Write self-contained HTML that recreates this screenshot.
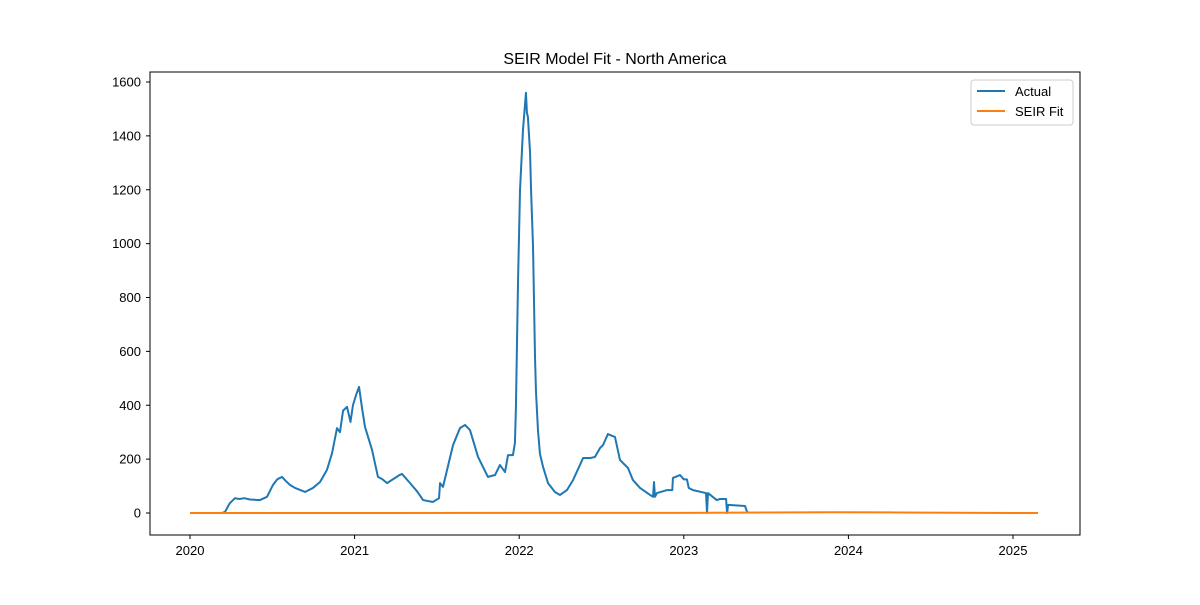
<!DOCTYPE html>
<html><head><meta charset="utf-8"><style>body{margin:0;background:#fff}svg text{font-family:"Liberation Sans","DejaVu Sans",sans-serif}</style></head>
<body>
<svg id="chart" width="1200" height="600" xmlns="http://www.w3.org/2000/svg">
<rect width="1200" height="600" fill="#fff"/>
<text x="615" y="64" font-size="16" text-anchor="middle">SEIR Model Fit - North America</text>
<g id="plot"></g>
<rect x="150" y="72" width="930" height="463" fill="none" stroke="#000" stroke-width="1"/>
<g>
<rect x="971" y="80" width="102" height="45" fill="#fff" stroke="#ccc" rx="3"/>
<line x1="977" y1="91" x2="1005" y2="91" stroke="#1f77b4" stroke-width="2"/>
<text x="1015" y="96" font-size="13">Actual</text>
<line x1="977" y1="111" x2="1005" y2="111" stroke="#ff7f0e" stroke-width="2"/>
<text x="1015" y="116" font-size="13">SEIR Fit</text>
</g>
</svg>
<script>
const actualDates=[
2020.000,2020.194,2020.213,2020.240,2020.273,2020.300,2020.330,2020.365,2020.425,2020.468,
2020.504,2020.530,2020.559,2020.580,2020.608,2020.638,2020.699,2020.747,2020.790,2020.832,
2020.863,2020.893,2020.911,2020.930,2020.954,2020.975,2020.990,2021.010,2021.027,2021.045,
2021.063,2021.106,2021.142,2021.170,2021.197,2021.245,2021.270,2021.288,2021.337,2021.380,
2021.416,2021.476,2021.513,2021.519,2021.537,2021.598,2021.640,2021.671,2021.701,2021.750,
2021.810,2021.853,2021.883,2021.914,2021.932,2021.962,2021.974,2021.980,2021.993,2022.005,
2022.023,2022.041,2022.047,2022.053,2022.066,2022.072,2022.084,2022.096,2022.102,2022.114,
2022.126,2022.145,2022.175,2022.217,2022.248,2022.290,2022.327,2022.388,2022.430,2022.460,
2022.491,2022.509,2022.539,2022.582,2022.612,2022.661,2022.691,2022.734,2022.795,2022.813,
2022.819,2022.825,2022.837,2022.898,2022.930,2022.934,2022.977,2023.000,2023.019,2023.030,
2023.056,2023.135,2023.141,2023.147,2023.200,2023.220,2023.257,2023.263,2023.269,2023.372,
2023.384,2023.390];
const actualValues=[
0,0,4,35,55,52,55,50,48,60,
104,125,134,120,104,93,78,93,115,160,
222,315,300,380,394,338,400,440,468,390,
320,234,134,125,111,130,140,145,111,80,
48,41,55,111,97,252,315,327,308,208,
134,141,178,152,215,215,260,390,865,1200,
1422,1560,1485,1470,1337,1200,988,580,450,308,
220,171,111,78,67,85,122,204,204,208,
241,252,293,282,197,167,122,93,67,60,
115,60,74,85,85,130,141,125,125,93,
85,74,0,74,48,52,52,0,30,26,
5,2];
const fitDates=[2020.0,2023.0,2023.5,2023.9,2024.3,2024.8,2025.152];
const fitValues=[0,0.5,2,3,2,0.5,0];
const yTicks=[0,200,400,600,800,1000,1200,1400,1600];
const xTicks=[2020,2021,2022,2023,2024,2025];
const xs=v=>190+(v-2020)*164.6;
const ys=v=>513-v*(431/1600);
const NS='http://www.w3.org/2000/svg';
const g=document.getElementById('plot');
function mk(t,a){const e=document.createElementNS(NS,t);for(const k in a)e.setAttribute(k,a[k]);g.appendChild(e);return e;}
yTicks.forEach(v=>{
  const l=mk('line',{x1:146,x2:150,y1:ys(v),y2:ys(v),stroke:'#000'});
  
  
  const t=mk('text',{x:141,y:ys(v)+4.5,'font-size':13,'text-anchor':'end'});
  
  
  t.textContent=v;
});
xTicks.forEach(v=>{
  const l=mk('line',{x1:xs(v),x2:xs(v),y1:535,y2:539,stroke:'#000'});
  
  
  const t=mk('text',{x:xs(v),y:555,'font-size':13,'text-anchor':'middle'});
  
  
  t.textContent=v;
});
const a=mk('polyline',{points:actualDates.map((d,i)=>xs(d)+','+ys(actualValues[i])).join(' '),fill:'none',stroke:'#1f77b4','stroke-width':2,'stroke-linejoin':'round'});


const f=mk('polyline',{points:fitDates.map((d,i)=>xs(d)+','+ys(fitValues[i])).join(' '),fill:'none',stroke:'#ff7f0e','stroke-width':2});


</script>
</body></html>
